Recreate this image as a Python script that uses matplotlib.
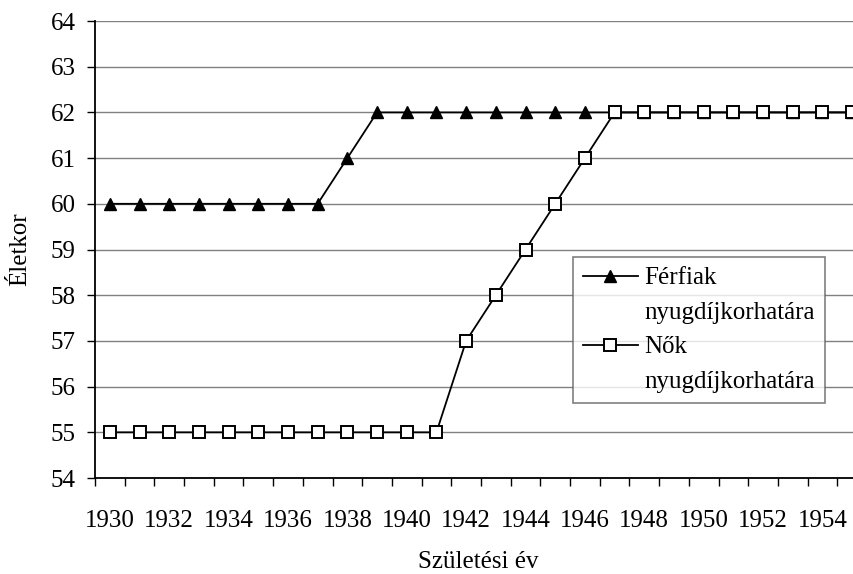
import numpy as np
import matplotlib.pyplot as plt
from matplotlib.lines import Line2D
from matplotlib.ticker import FixedLocator

# =========================================
# DONNEES
# =========================================

years = [1930, 1931, 1932, 1933, 1934, 1935, 1936, 1937, 1938, 1939,
         1940, 1941, 1942, 1943, 1944, 1945, 1946, 1947, 1948, 1949,
         1950, 1951, 1952, 1953, 1954, 1955]

ferfiak = [60, 60, 60, 60, 60, 60, 60, 60, 61, 62,
           62, 62, 62, 62, 62, 62, 62, 62, 62, 62,
           62, 62, 62, 62, 62, 62]

nok = [55, 55, 55, 55, 55, 55, 55, 55, 55, 55,
       55, 55, 57, 58, 59, 60, 61, 62, 62, 62,
       62, 62, 62, 62, 62, 62]

y_ticks = [54, 55, 56, 57, 58, 59, 60, 61, 62, 63, 64]

label_ferfi = ["Férfiak", "nyugdíjkorhatára"]
label_nok = ["Nők", "nyugdíjkorhatára"]

# =========================================
# PLOT
# =========================================

plt.rcParams['font.family'] = ['Liberation Serif', 'DejaVu Serif']
fs = 18

fig = plt.figure(figsize=(8.54, 5.74), dpi=100)
ax = fig.add_axes([0.1112, 0.1672, 0.904, 0.7962])

pos = np.arange(len(years))

l1, = ax.plot(pos, ferfiak, color='black', lw=1.3, marker='^',
              markersize=9, markerfacecolor='black', zorder=3)
l2, = ax.plot(pos, nok, color='black', lw=1.3, marker='s',
              markersize=8, markerfacecolor='white', markeredgewidth=1.4,
              zorder=3)

ax.set_xlim(-0.5, len(years) - 0.5)
ax.set_ylim(54, 64)

ax.set_yticks(y_ticks)
ax.yaxis.grid(True, color='#808080', lw=1.0)
ax.set_axisbelow(True)

ax.set_xticks(pos[::2], [str(y) for y in years[::2]])
ax.xaxis.set_minor_locator(FixedLocator(np.arange(len(years) + 1) - 0.5))
ax.tick_params(axis='x', which='major', length=0, pad=23, labelsize=fs)
ax.tick_params(axis='x', which='minor', length=6, width=1, direction='out')
ax.tick_params(axis='y', length=6, width=1, pad=8, labelsize=fs)

for s in ['top', 'right']:
    ax.spines[s].set_visible(False)
ax.spines['left'].set_linewidth(1.3)
ax.spines['bottom'].set_linewidth(1.3)

ax.set_ylabel("Életkor", fontsize=fs, va='center')
ax.yaxis.set_label_coords(-0.097, 0.5)
ax.set_xlabel("Születési év", fontsize=fs, va='center')
ax.xaxis.set_label_coords(0.497, -0.183)

blank = Line2D([], [], linestyle='none')
leg = ax.legend([l1, blank, l2, blank],
                [label_ferfi[0], label_ferfi[1], label_nok[0], label_nok[1]],
                loc='upper left', bbox_to_anchor=(0.619, 0.484),
                borderaxespad=0, fontsize=fs, frameon=True, fancybox=False,
                edgecolor='#606060', handlelength=2.2, handletextpad=0.25,
                labelspacing=0.48, borderpad=0.4)
leg.get_frame().set_linewidth(1.2)

fig.savefig("out.png", dpi=100)
